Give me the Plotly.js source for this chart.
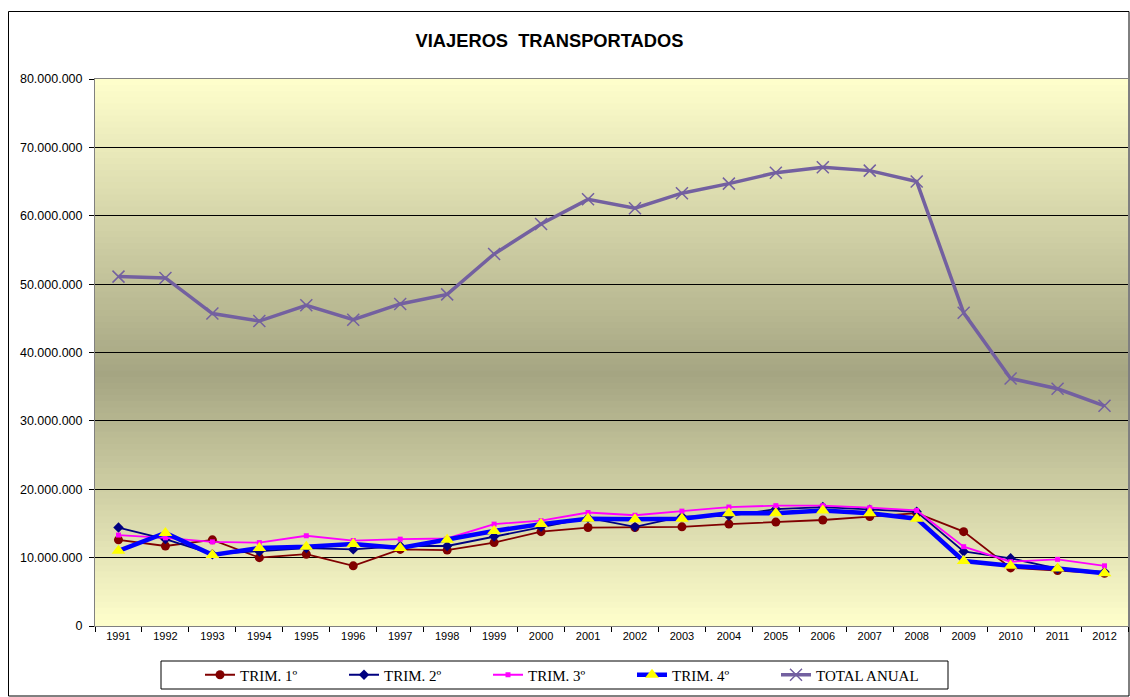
<!DOCTYPE html>
<html>
<head>
<meta charset="utf-8">
<script src="https://cdn.plot.ly/plotly-3.0.1.min.js"></script>
<style>
html,body{margin:0;padding:0;background:#fff;}
#chart{width:1130px;height:697px;}
</style>
</head>
<body>
<div id="chart"></div>
<script>
const years = ["1991","1992","1993","1994","1995","1996","1997","1998","1999","2000","2001","2002","2003","2004","2005","2006","2007","2008","2009","2010","2011","2012"];
const trim1 = [12600000,11700000,12600000,10000000,10500000,8800000,11200000,11100000,12200000,13800000,14400000,14400000,14500000,14900000,15200000,15500000,16000000,16500000,13800000,8500000,8100000,7700000];
const trim2 = [14400000,12700000,10500000,10900000,11400000,11200000,11700000,11700000,13100000,14500000,15800000,14500000,16000000,16100000,17100000,17400000,17000000,16700000,10900000,9900000,8400000,7900000];
const trim3 = [13300000,12900000,12300000,12200000,13200000,12500000,12700000,12800000,14900000,15400000,16600000,16200000,16800000,17400000,17600000,17600000,17300000,16900000,11600000,9400000,9750000,8800000];
const trim4 = [11000000,13600000,10400000,11400000,11600000,12000000,11400000,12600000,13900000,14900000,15700000,15600000,15700000,16500000,16500000,16900000,16500000,15700000,9500000,8800000,8400000,7700000];
const total = [51100000,50900000,45700000,44600000,46900000,44800000,47100000,48500000,54400000,58800000,62400000,61100000,63300000,64700000,66300000,67100000,66600000,65000000,45800000,36200000,34700000,32200000];
const seriesNames = ["TRIM. 1º","TRIM. 2º","TRIM. 3º","TRIM. 4º","TOTAL ANUAL"];

// background gradient bands (light - dark - light)
const shapes = [];
const nb = 90;
const light = [255,255,204], dark = [165,165,130], mid = 0.46;
function col(t){
  let f = t < mid ? (mid - t)/mid : (t - mid)/(1 - mid);
  const c = light.map((l,i)=>Math.round(dark[i] + (l-dark[i])*f));
  return `rgb(${c[0]},${c[1]},${c[2]})`;
}
for(let i=0;i<nb;i++){
  const y0=i/nb, y1=(i+1)/nb;
  shapes.push({type:'rect',xref:'paper',yref:'paper',x0:0,x1:1,y0:y0,y1:y1+0.002,
    fillcolor:col((y0+y1)/2),line:{width:0},layer:'below'});
}
// legend box
shapes.push({type:'rect',xref:'paper',yref:'paper',x0:(161-95)/1033,x1:(948-95)/1033,
  y0:(626-689)/547,y1:(626-661)/547,line:{color:'#000',width:1},fillcolor:'#fff',layer:'below'});
// outer border
shapes.push({type:'rect',xref:'paper',yref:'paper',x0:(8.5-95)/1033,x1:(1129-95)/1033,
  y0:(626-696)/547,y1:(626-11.5)/547,line:{color:'#000',width:1},fillcolor:'rgba(0,0,0,0)',layer:'below'});

const traces = [
  {x:years,y:trim1,name:seriesNames[0],type:'scatter',mode:'lines+markers',
   line:{color:'#800000',width:1.8},marker:{symbol:'circle',size:9,color:'#800000'}},
  {x:years,y:trim2,name:seriesNames[1],type:'scatter',mode:'lines+markers',
   line:{color:'#000080',width:1.8},marker:{symbol:'diamond',size:8,color:'#000080'}},
  {x:years,y:trim3,name:seriesNames[2],type:'scatter',mode:'lines+markers',
   line:{color:'#FF00FF',width:1.8},marker:{symbol:'square',size:5,color:'#FF00FF'}},
  {x:years,y:trim4,name:seriesNames[3],type:'scatter',mode:'lines+markers',
   line:{color:'#0000FF',width:4.5},marker:{symbol:'triangle-up',size:12,color:'#FFFF00'}},
  {x:years,y:total,name:seriesNames[4],type:'scatter',mode:'lines+markers',
   line:{color:'#7360A0',width:3.5},marker:{symbol:'x-thin-open',size:12,color:'#7360A0',line:{width:1.5,color:'#7360A0'}}}
];

const layout = {
  width:1130,height:697,
  margin:{l:95,r:2,t:79,b:71,autoexpand:false},
  paper_bgcolor:'#fff',plot_bgcolor:'rgba(0,0,0,0)',
  separators:',.',
  font:{family:'Arial, Liberation Sans, sans-serif',color:'#000',size:11},
  title:{text:'<b>VIAJEROS  TRANSPORTADOS</b>',font:{family:'Arial, Liberation Sans, sans-serif',size:18.3,color:'#000'},
    xref:'paper',x:0.44,xanchor:'center',yref:'container',y:1-41/697,yanchor:'middle'},
  xaxis:{type:'category',range:[-0.5,21.5],tickson:'boundaries',ticks:'outside',ticklen:5,tickcolor:'#000',
    showgrid:false,showline:true,linecolor:'#808080',linewidth:1,mirror:true,automargin:false,
    tickfont:{size:11,family:'Arial, Liberation Sans, sans-serif'},fixedrange:true,zeroline:false},
  yaxis:{range:[0,80000000],dtick:10000000,tickformat:',.0f',ticks:'outside',ticklen:5,tickcolor:'#000',
    showgrid:true,gridcolor:'#000',gridwidth:1,showline:true,linecolor:'#808080',linewidth:1,mirror:true,automargin:false,
    zeroline:false,tickfont:{size:12.5,family:'Arial, Liberation Sans, sans-serif'},ticklabelstandoff:4},
  showlegend:true,
  legend:{orientation:'h',x:(188-95)/1033,xanchor:'left',y:(626-675)/547,yanchor:'middle',
    bgcolor:'rgba(0,0,0,0)',borderwidth:12,bordercolor:'rgba(0,0,0,0)',entrywidth:99,entrywidthmode:'pixels',
    font:{family:'Times New Roman, Liberation Serif, serif',size:15,color:'#000'},traceorder:'normal'},
  shapes:shapes
};
Plotly.newPlot('chart',traces,layout,{displayModeBar:false,staticPlot:true});
</script>
</body>
</html>
